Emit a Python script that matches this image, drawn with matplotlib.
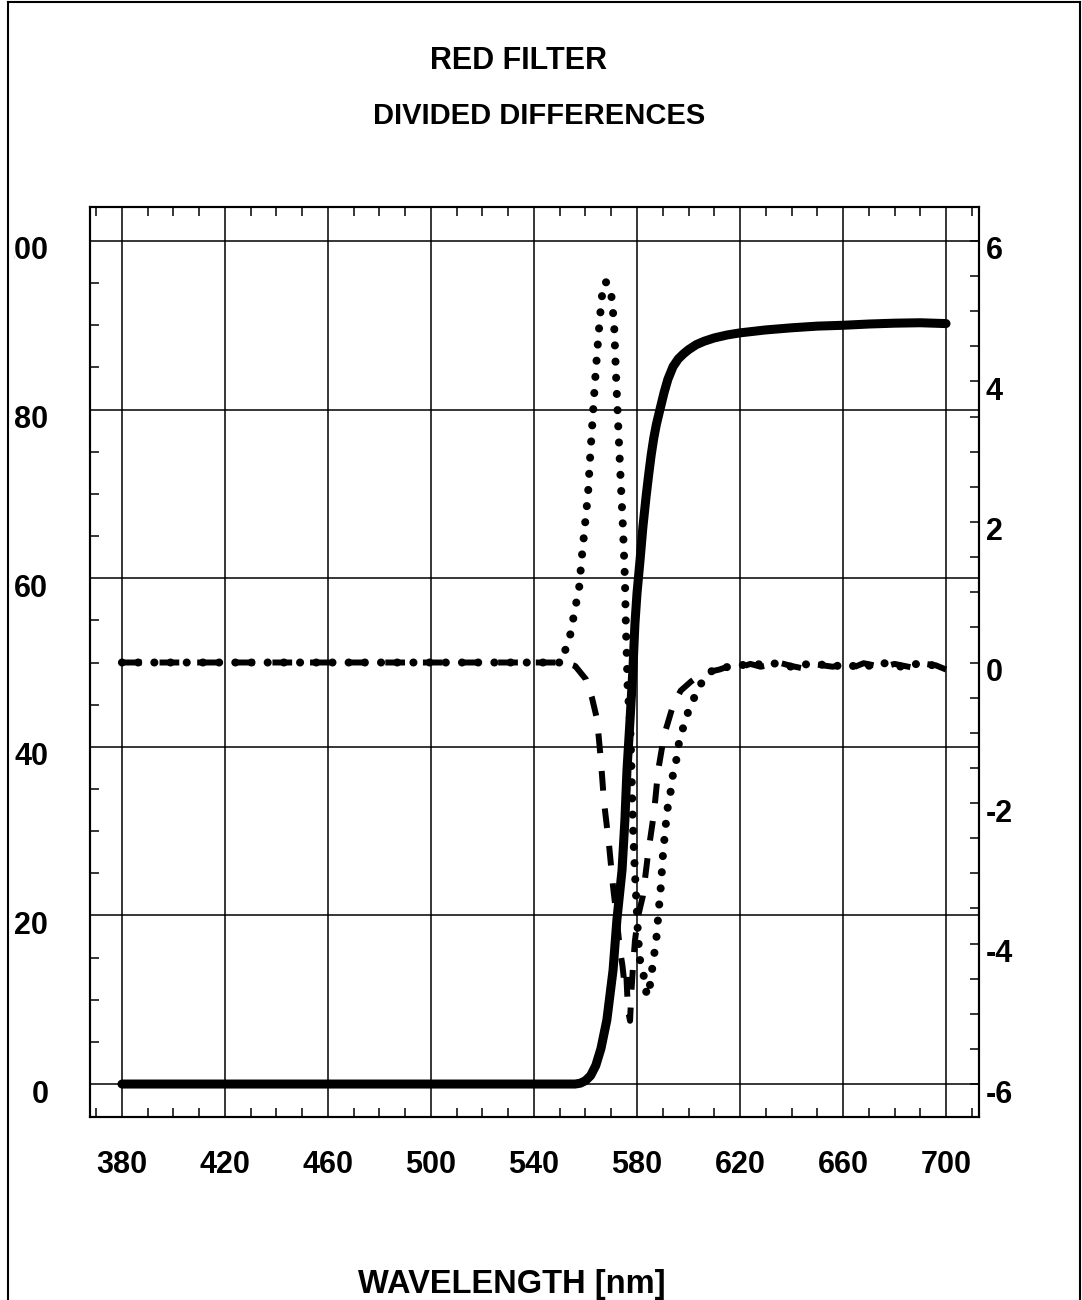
import matplotlib
matplotlib.use("Agg")
import matplotlib.pyplot as plt
import matplotlib.transforms as mtransforms
from matplotlib.lines import Line2D
from matplotlib.ticker import MultipleLocator, FixedLocator

# ---------------------------------------------------------------- data
# transmittance of the red filter [%] (left axis)
wl_T = [380, 556, 558, 560, 562, 564, 566, 568.3, 570.7, 572.2, 574.2, 575.3,
        576.1, 577.3, 578.4, 579.2, 580.0, 581.2, 582.3, 583.5, 584.5, 585.5,
        586.5, 587.5, 588.9, 590.5, 592.0, 594, 596, 598, 600, 603, 606, 610,
        615, 620, 630, 640, 650, 660, 670, 680, 690, 700]
T = [0.0, 0.0, 0.1, 0.4, 1.0, 2.2, 4.2, 7.6, 13.5, 19.5, 25.4, 31.3,
     37.2, 43.2, 49.1, 54.6, 58.2, 62.2, 66.1, 69.6, 72.2, 74.6,
     76.6, 78.2, 80.0, 82.0, 83.6, 85.1, 86.0, 86.6, 87.1, 87.7, 88.1, 88.5,
     88.85, 89.1, 89.45, 89.7, 89.9, 90.0, 90.15, 90.25, 90.3, 90.2]

# first set of divided differences (right axis, dotted)
wl_d1 = [380, 551, 552.0, 554.0, 556.3, 557.5, 558.6, 559.8, 561.0, 561.7,
         562.9, 563.7, 564.5, 565.6, 566.8, 567.6, 568.5, 569.9, 571.1, 571.8,
         572.6, 573.4, 574.6, 575.3, 575.7, 576.1, 576.4, 576.9, 577.3, 577.7,
         578.1, 578.4, 578.8, 579.2, 580.0, 580.4, 581.2, 582.3, 583.1, 584.0,
         585.0, 586.2, 587.0, 587.8, 588.2, 589.3, 590.1, 591.3, 592.0, 593.2,
         594.0, 595.5, 596.3, 597.9, 599.8, 602.1, 604.9, 607.6, 610.3,
         612, 616, 620, 624, 628, 632, 636, 640, 644, 648, 652, 656, 660,
         664, 668, 672, 676, 680, 684, 688, 692, 696, 699]
d1 = [0.0, 0.0, 0.16, 0.38, 0.83, 1.05, 1.51, 1.96, 2.41, 2.86,
      3.54, 4.00, 4.40, 4.91, 5.37, 5.42, 5.40, 5.28, 4.83, 4.14,
      3.46, 2.80, 1.88, 1.20, 0.50, 0.00, -0.40, -0.63, -0.85, -1.30,
      -1.90, -2.30, -2.66, -3.00, -3.57, -3.90, -4.24, -4.37, -4.61, -4.75,
      -4.60, -4.28, -4.07, -3.84, -3.62, -3.17, -2.72, -2.26, -2.04, -1.81,
      -1.58, -1.35, -1.14, -0.93, -0.71, -0.51, -0.30, -0.16, -0.09,
      -0.08, -0.06, -0.03, -0.05, -0.02, 0.00, -0.04, -0.06, -0.01, -0.05,
      -0.03, -0.07, -0.02, -0.05, -0.03, -0.06, -0.01, -0.04, -0.07, -0.02,
      -0.05, -0.03, -0.14]

# second set of divided differences (right axis, dashed)
wl_d2 = [380, 552, 556, 560.2, 562.5, 564.5, 566.0, 567.2, 569.1, 570.7,
         572.0, 573.4, 574.3, 575.0, 575.8, 576.5, 577.3, 577.8, 578.5, 579.2,
         580.5, 582.3, 584.3, 586.6, 588.2, 590.5, 594.0, 597, 601.0, 604.5,
         608.4, 612, 616, 620, 624, 628, 632, 636, 640, 644, 648, 652, 656,
         660, 664, 668, 672, 676, 680, 684, 688, 692, 696, 700]
d2 = [0.0, 0.0, -0.05, -0.24, -0.50, -0.81, -1.40, -1.99, -2.58, -3.19,
      -3.60, -4.10, -4.30, -4.53, -4.40, -4.95, -5.10, -4.70, -4.30, -3.96,
      -3.60, -3.32, -2.72, -2.14, -1.54, -1.04, -0.61, -0.40, -0.27, -0.18,
      -0.13, -0.10, -0.05, -0.07, -0.02, -0.06, -0.03, -0.01, -0.05, -0.08,
      -0.02, -0.04, -0.06, -0.03, -0.07, -0.01, -0.04, -0.06, -0.02, -0.05,
      -0.08, -0.02, -0.04, -0.10]

x_ticks = [380, 420, 460, 500, 540, 580, 620, 660, 700]
left_ticks = [0, 20, 40, 60, 80, 100]
right_ticks = [-6, -4, -2, 0, 2, 4, 6]

title_lines = ["RED FILTER", "DIVIDED DIFFERENCES"]
x_label = "WAVELENGTH [nm]"

# ---------------------------------------------------------------- style
plt.rcParams["font.family"] = ["Liberation Sans", "DejaVu Sans"]
plt.rcParams["font.weight"] = "bold"
FS = 22

W, H = 1082, 1300
fig = plt.figure(figsize=(W / 100, H / 100), dpi=100)
fig.patch.set_facecolor("white")

ax = fig.add_axes([90 / W, 1 - 1117 / H, 889 / W, 910 / H])
ax2 = ax.twinx()

ax.set_xlim(367.6, 712.8)
ax.set_ylim(-3.91, 104.03)
ax2.set_ylim((-3.91 - 50) * 0.12, (104.03 - 50) * 0.12)

# curves
ax.plot(wl_T, T, color="black", lw=6.5, solid_capstyle="round",
        solid_joinstyle="round", zorder=3)
ax2.plot(wl_d2, d2, color="black", lw=4.3, linestyle=(0, (3.3, 3.0)),
         dash_capstyle="butt", zorder=3)
ax2.plot(wl_d1, d1, color="black", lw=5.8, linestyle=(0, (0.01, 2.0)),
         dash_capstyle="round", zorder=4)

# grid
ax.xaxis.set_major_locator(FixedLocator(x_ticks))
ax.yaxis.set_major_locator(FixedLocator(left_ticks))
ax.xaxis.set_minor_locator(MultipleLocator(10))
ax.yaxis.set_minor_locator(MultipleLocator(5))
ax.grid(True, which="major", color="black", lw=1.1)
ax.set_axisbelow(True)

ax2.yaxis.set_major_locator(FixedLocator(right_ticks))
ax2.yaxis.set_minor_locator(MultipleLocator(0.5))

for a in (ax, ax2):
    for s in a.spines.values():
        s.set_linewidth(1.5)
        s.set_color("black")

ax.tick_params(axis="x", which="major", length=0, pad=24, labelsize=FS,
               top=False)
ax.tick_params(axis="x", which="minor", direction="in", length=6.5,
               width=1.1, top=True, bottom=True)
ax.tick_params(axis="y", which="major", length=0, pad=30, labelsize=FS)
ax.tick_params(axis="y", which="minor", direction="in", length=6.5,
               width=1.1, left=True, right=False)
ax2.tick_params(axis="y", which="both", direction="in", length=6.5,
                width=1.1, pad=5, labelsize=FS)

ax.set_xticklabels([str(v) for v in x_ticks], fontweight="bold")
ax.set_yticklabels([str(v) for v in left_ticks], fontweight="bold")
ax2.set_yticklabels([str(v) for v in right_ticks], fontweight="bold")

# labels sit slightly below their grid lines
shift = mtransforms.ScaledTranslation(0, -7 / 100, fig.dpi_scale_trans)
for t in ax.yaxis.get_major_ticks():
    t.label1.set_transform(t.label1.get_transform() + shift)
for t in ax2.yaxis.get_major_ticks():
    t.label2.set_transform(t.label2.get_transform() + shift)

# the page frame cuts off the leading digit of the top label
for t in ax.yaxis.get_major_ticks():
    t.label1.set_clip_on(True)
    t.label1.set_clip_box(mtransforms.TransformedBbox(
        mtransforms.Bbox.from_extents(14 / W, 0, 1, 1), fig.transFigure))

# titles
fig.text(518 / W, 1 - 61 / H, title_lines[0], ha="center", va="center",
         fontsize=FS, fontweight="bold")
fig.text(539 / W, 1 - 116 / H, title_lines[1], ha="center", va="center",
         fontsize=21, fontweight="bold")
fig.text(512 / W, 7 / H, x_label, ha="center", va="baseline",
         fontsize=23.5, fontweight="bold")

# page frame
frame_kw = dict(color="black", lw=1.5, transform=fig.transFigure)
fig.add_artist(Line2D([8 / W, 8 / W], [0, 1 - 1.5 / H], **frame_kw))
fig.add_artist(Line2D([8 / W, 1080 / W], [1 - 1.5 / H, 1 - 1.5 / H], **frame_kw))
fig.add_artist(Line2D([1080 / W, 1080 / W], [0, 1 - 1.5 / H], **frame_kw))

fig.savefig("out.png", dpi=100, facecolor="white")
